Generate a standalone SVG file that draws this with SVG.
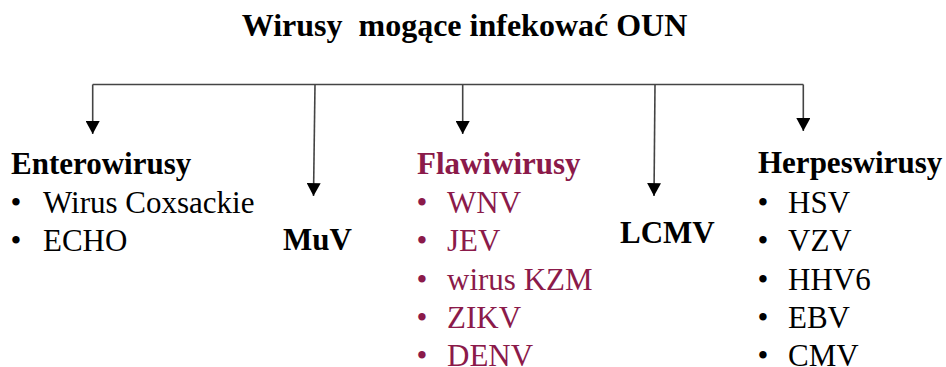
<svg xmlns="http://www.w3.org/2000/svg" width="946" height="367" viewBox="0 0 946 367">
<defs>
<marker id="arr" markerUnits="userSpaceOnUse" markerWidth="14" markerHeight="14" viewBox="0 0 12 13" refX="12" refY="6.5" orient="auto">
<path d="M0,0 L12,6.5 L0,13 Z" fill="#000"/>
</marker>
<style>
text{font-family:"Liberation Serif","Times New Roman",serif;font-size:31px;fill:#000}
.b{font-weight:bold}
.t{font-size:32px}
.red{fill:#8B1A4A}
.bul{text-anchor:middle}
.c{stroke:#444;stroke-width:1.6;fill:none}
.a{marker-end:url(#arr)}
</style>
</defs>
<g id="title"><text class="b t" x="464.5" y="36" text-anchor="middle" xml:space="preserve">Wirusy  mogące infekować OUN</text></g>
<g id="connectors">
<path class="c" d="M92.7,84.5 H803.3"/>
<path class="c a" d="M92.7,84.5 V134"/>
<path class="c a" d="M315,84.5 L313.5,196"/>
<path class="c a" d="M462.7,84.5 V134"/>
<path class="c a" d="M655,84.5 L654,196"/>
<path class="c a" d="M803.3,84.5 V131"/>
</g>
<g id="enterowirusy">
<text class="b" x="11" y="174">Enterowirusy</text>
<text class="bul" x="16" y="213">•</text><text x="43" y="213">Wirus Coxsackie</text>
<text class="bul" x="16" y="251">•</text><text x="43" y="251">ECHO</text>
</g>
<g id="muv"><text class="b" x="283" y="250">MuV</text></g>
<g id="flawiwirusy">
<text class="b red" x="417" y="174">Flawiwirusy</text>
<text class="bul red" x="422" y="213">•</text><text class="red" x="447" y="213">WNV</text>
<text class="bul red" x="422" y="251">•</text><text class="red" x="447" y="251">JEV</text>
<text class="bul red" x="422" y="290">•</text><text class="red" x="447" y="290">wirus KZM</text>
<text class="bul red" x="422" y="328">•</text><text class="red" x="447" y="328">ZIKV</text>
<text class="bul red" x="422" y="366">•</text><text class="red" x="447" y="366">DENV</text>
</g>
<g id="lcmv"><text class="b" x="620" y="243">LCMV</text></g>
<g id="herpeswirusy">
<text class="b" x="758" y="173">Herpeswirusy</text>
<text class="bul" x="763" y="213">•</text><text x="788" y="213">HSV</text>
<text class="bul" x="763" y="251">•</text><text x="788" y="251">VZV</text>
<text class="bul" x="763" y="290">•</text><text x="788" y="290">HHV6</text>
<text class="bul" x="763" y="328">•</text><text x="788" y="328">EBV</text>
<text class="bul" x="763" y="366">•</text><text x="788" y="366">CMV</text>
</g>
</svg>
